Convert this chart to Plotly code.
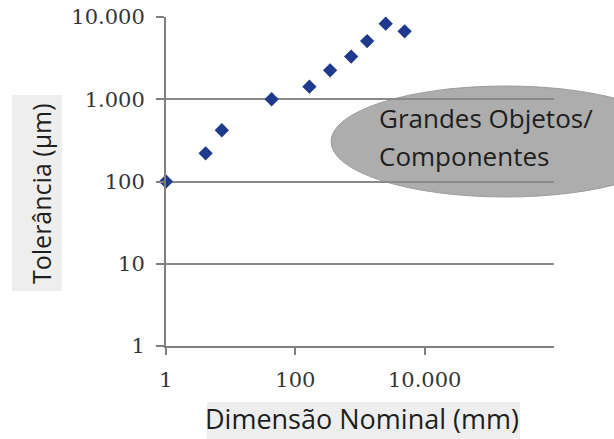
import plotly.graph_objects as go

# Data
dimensao_mm = [1, 4.1, 7.3, 43, 165, 345, 730, 1290, 2500, 4900]
tolerancia_um = [100, 220, 420, 1000, 1420, 2250, 3300, 5100, 8300, 6700]

x_tickvals = [1, 100, 10000]
x_ticktext = ["1", "100", "10.000"]
y_tickvals = [1, 10, 100, 1000, 10000]
y_ticktext = ["1", "10", "100", "1.000", "10.000"]

label_text_1 = "Grandes Objetos/"
label_text_2 = "Componentes"
x_title = "Dimensão Nominal (mm)"
y_title = "Tolerância (µm)"

W, H = 614, 439
L, R, T, B = 166, 60, 17, 93
PW, PH = W - L - R, H - T - B


def px(xp):
    return (xp - L) / PW


def py(yp):
    return ((H - B) - yp) / PH


fig = go.Figure()
fig.add_trace(go.Scatter(
    x=dimensao_mm, y=tolerancia_um, mode="markers",
    marker=dict(symbol="diamond", size=11, color="#1f3a8c"),
    cliponaxis=False, showlegend=False, hoverinfo="skip"))

tickfont = dict(family="DejaVu Serif", size=21, color="#353535")
fig.update_layout(
    width=W, height=H,
    margin=dict(l=L, r=R, t=T, b=B, pad=0, autoexpand=False),
    paper_bgcolor="white", plot_bgcolor="white",
    xaxis=dict(type="log", range=[0, 6], tickvals=x_tickvals, ticktext=x_ticktext,
               showgrid=False, showline=True, linecolor="#7f7f7f", linewidth=2,
               ticks="outside", ticklen=7, tickwidth=2, tickcolor="#7f7f7f",
               tickfont=tickfont, ticklabelstandoff=7, zeroline=False, automargin=False),
    yaxis=dict(type="log", range=[0, 4], tickvals=y_tickvals, ticktext=y_ticktext,
               showgrid=True, gridcolor="#8a8a8a", gridwidth=2,
               showline=True, linecolor="#7f7f7f", linewidth=2,
               ticks="outside", ticklen=8, tickwidth=2, tickcolor="#7f7f7f",
               tickfont=tickfont, ticklabelstandoff=7, zeroline=False, automargin=False),
)

# grey ellipse callout (behind gridlines)
fig.add_shape(type="circle", xref="paper", yref="paper",
              x0=px(331), x1=px(680), y0=py(197), y1=py(86),
              fillcolor="#adadad", line=dict(color="#9c9c9c", width=1), layer="below")

# light background boxes behind axis titles
fig.add_shape(type="rect", xref="paper", yref="paper",
              x0=px(12), x1=px(62), y0=py(291), y1=py(95),
              fillcolor="#eeeeee", line=dict(width=0), layer="below")
fig.add_shape(type="rect", xref="paper", yref="paper",
              x0=px(207), x1=px(520), y0=py(439), y1=py(402),
              fillcolor="#eeeeee", line=dict(width=0), layer="below")

lblfont = dict(family="Open Sans", size=26, color="#1e1e1e")
fig.add_annotation(xref="paper", yref="paper", x=px(377), y=py(118), text=label_text_1,
                   showarrow=False, xanchor="left", yanchor="middle", font=lblfont)
fig.add_annotation(xref="paper", yref="paper", x=px(377), y=py(156), text=label_text_2,
                   showarrow=False, xanchor="left", yanchor="middle", font=lblfont)

xtitlefont = dict(family="Open Sans", size=27, color="#1e1e1e")
ytitlefont = dict(family="Open Sans", size=25, color="#1e1e1e")
fig.add_annotation(xref="paper", yref="paper", x=px(362), y=py(419),
                   text=x_title, showarrow=False, xanchor="center", yanchor="middle",
                   font=xtitlefont, borderpad=0)
fig.add_annotation(xref="paper", yref="paper", x=px(41), y=py(193),
                   text=y_title, textangle=-90, showarrow=False, xanchor="center", yanchor="middle",
                   font=ytitlefont, borderpad=0)

fig.write_html("out.html", config=dict(displayModeBar=False),
               post_script="document.body.style.margin='0px';")
